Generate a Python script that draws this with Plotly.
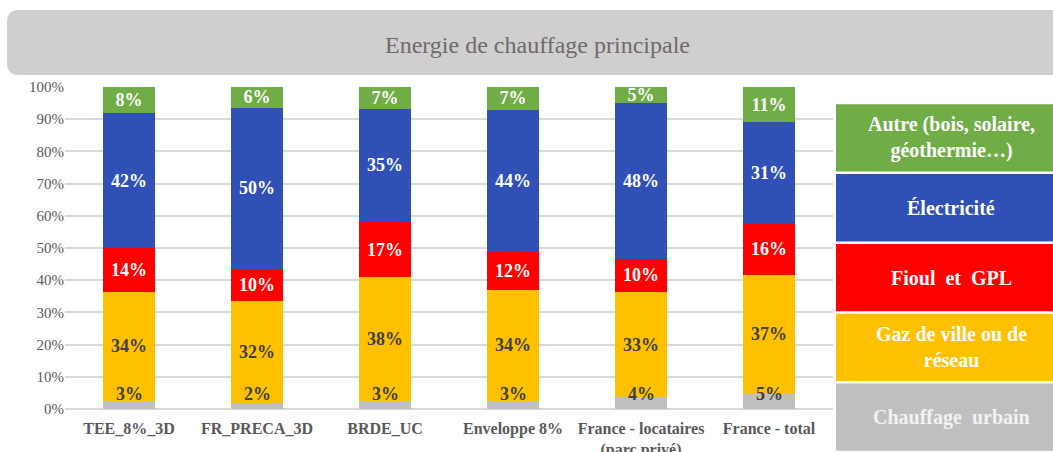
import plotly.graph_objects as go

categories = ["TEE_8%_3D", "FR_PRECA_3D", "BRDE_UC", "Enveloppe 8%",
              "France - locataires<br>(parc privé)", "France - total"]
urbain = [2.6, 1.8, 2.6, 2.6, 3.7, 4.8]
gaz = [33.8, 31.8, 38.4, 34.4, 32.6, 36.8]
fioul = [13.6, 9.8, 17.0, 11.9, 10.4, 16.0]
elec = [41.8, 50.2, 35.3, 44.1, 48.4, 31.4]
autre = [8.2, 6.4, 6.7, 7.0, 4.9, 11.0]

series = [
    ("Chauffage urbain", urbain, "#BFBFBF", "#404040"),
    ("Gaz de ville ou de réseau", gaz, "#FFC000", "#404040"),
    ("Fioul et GPL", fioul, "#FF0000", "#FFFFFF"),
    ("Électricité", elec, "#3050B5", "#FFFFFF"),
    ("Autre (bois, solaire, géothermie…)", autre, "#70AD47", "#FFFFFF"),
]
legend_labels = [
    ("Autre (bois, solaire,<br>géothermie…)", "#70AD47", "#FFFFFF"),
    ("Électricité", "#3050B5", "#FFFFFF"),
    ("Fioul  et  GPL", "#FF0000", "#FFFFFF"),
    ("Gaz de ville ou de<br>réseau", "#FFC000", "#FFFFFF"),
    ("Chauffage  urbain", "#BFBFBF", "#F2F2F2"),
]

FONT = "Liberation Serif"
W, H = 1053, 452
ML, MR, MT, MB = 65, 220, 87, 43
PW = W - ML - MR
PH = H - MT - MB


def px_x(px):
    return (px - ML) / PW


def px_y(py):
    return (H - MB - py) / PH


fig = go.Figure()
for i, (name, vals, color, tcolor) in enumerate(series):
    fig.add_trace(go.Bar(
        x=categories, y=vals, name=name,
        marker=dict(color=color, line=dict(width=0)),
        text=[f"<b>{v:.0f}%</b>" for v in vals] if i > 0 else None,
        textposition="inside" if i > 0 else "none",
        insidetextanchor="middle",
        textangle=0,
        textfont=dict(family=FONT, size=18, color=tcolor),
        showlegend=False,
    ))

annotations = []
# labels for the thin bottom segment (placed just above it, as in the source)
for c, v in zip(categories, urbain):
    annotations.append(dict(
        x=c, y=4.7, xref="x", yref="y", text=f"<b>{v:.0f}%</b>",
        xanchor="center", yanchor="middle",
        showarrow=False, font=dict(family=FONT, size=18, color="#404040"),
    ))

shapes = []
# title banner with rounded left corners
x0, x1 = px_x(7), px_x(1065)
y0, y1 = px_y(75), px_y(10)
rx, ry = 12 / PW, 12 / PH
path = (f"M {x0+rx},{y1} L {x1},{y1} L {x1},{y0} L {x0+rx},{y0} "
        f"Q {x0},{y0} {x0},{y0+ry} L {x0},{y1-ry} Q {x0},{y1} {x0+rx},{y1} Z")
shapes.append(dict(type="path", xref="paper", yref="paper", path=path,
                   fillcolor="#D0CECE", line=dict(width=0), layer="below"))
annotations.append(dict(
    x=px_x(537), y=px_y(45), xref="paper", yref="paper",
    xanchor="center", yanchor="middle",
    text="Energie de chauffage principale", showarrow=False,
    font=dict(family=FONT, size=24, color="#6E6B6B"),
))

# custom legend boxes
box_top, box_h, gap = 104.3, 67.3, 2.5
for k, (label, color, tcolor) in enumerate(legend_labels):
    t = box_top + k * (box_h + gap)
    b = t + box_h
    shapes.append(dict(type="rect", xref="paper", yref="paper",
                       x0=px_x(836), x1=px_x(1060), y0=px_y(b), y1=px_y(t),
                       fillcolor=color, line=dict(width=0)))
    annotations.append(dict(
        x=px_x(951), y=px_y((t + b) / 2), xref="paper", yref="paper",
        xanchor="center", yanchor="middle",
        text=f"<b>{label}</b>", showarrow=False,
        font=dict(family=FONT, size=20, color=tcolor),
    ))

fig.update_layout(
    width=W, height=H,
    margin=dict(l=ML, r=MR, t=MT, b=MB, autoexpand=False),
    barmode="stack", bargap=0.6,
    plot_bgcolor="white", paper_bgcolor="white",
    uniformtext=dict(mode="show", minsize=18),
    shapes=shapes, annotations=annotations,
    showlegend=False,
)
fig.update_xaxes(
    type="category", showgrid=False, showline=False, ticks="",
    tickfont=dict(family=FONT, size=16, color="#595959"),
    tickvals=categories, ticktext=[f"<b>{c}</b>" for c in categories],
    ticklabelstandoff=8,
)
fig.update_yaxes(
    range=[0, 100], dtick=10, ticksuffix="%",
    showgrid=True, gridcolor="#D9D9D9", gridwidth=1.5,
    zeroline=True, zerolinecolor="#D9D9D9", zerolinewidth=1.5,
    showline=False, ticks="",
    tickfont=dict(family=FONT, size=15, color="#595959"),
)

fig.write_html(
    "out.html",
    config={"displayModeBar": False},
    post_script="document.body.style.margin='0';document.body.style.overflow='hidden';",
)
